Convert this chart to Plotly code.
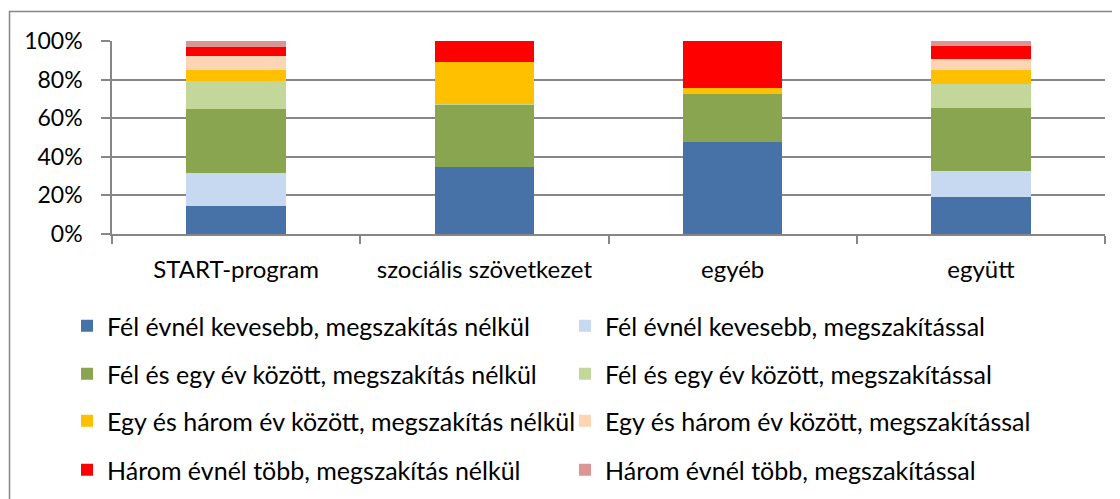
import plotly.graph_objects as go

categories = ["START-program", "szociális szövetkezet", "egyéb", "együtt"]

series_names = [
    "Fél évnél kevesebb, megszakítás nélkül",
    "Fél évnél kevesebb, megszakítással",
    "Fél és egy év között, megszakítás nélkül",
    "Fél és egy év között, megszakítással",
    "Egy és három év között, megszakítás nélkül",
    "Egy és három év között, megszakítással",
    "Három évnél több, megszakítás nélkül",
    "Három évnél több, megszakítással",
]

fel_kev_nelkul = [14.6, 34.7, 47.7, 19.1]
fel_kev_vel = [16.8, 0.0, 0.0, 13.7]
fel_egy_nelkul = [33.3, 32.2, 24.9, 32.5]
fel_egy_vel = [14.6, 0.6, 0.0, 12.2]
egy_harom_nelkul = [5.7, 21.4, 3.0, 7.6]
egy_harom_vel = [7.1, 0.0, 0.0, 5.7]
harom_nelkul = [5.0, 11.1, 24.4, 6.8]
harom_vel = [2.9, 0.0, 0.0, 2.4]

series_values = [fel_kev_nelkul, fel_kev_vel, fel_egy_nelkul, fel_egy_vel,
                 egy_harom_nelkul, egy_harom_vel, harom_nelkul, harom_vel]

colors = ["#4672A8", "#C6D9F1", "#8AA54F", "#C4D79B",
          "#FFC000", "#FCD5B5", "#FF0000", "#D99694"]

y_ticks = [0, 0.2, 0.4, 0.6, 0.8, 1.0]
y_ticktext = ["0%", "20%", "40%", "60%", "80%", "100%"]

FONT = "Lato"
OFF = 8  # page body margin offset
W, H = 1120, 499
# target screen positions of plot area
SX0, SX1, SY0, SY1 = 112, 1105, 41, 234
L = SX0 - OFF
R = W - (SX1 - OFF)
T = SY0 - OFF
B = H - (SY1 - OFF)
pw, ph = W - L - R, H - T - B

def px2x(px):
    return (px - OFF - L) / pw

def py2y(py):
    return (H - B - (py - OFF)) / ph

fig = go.Figure()
legend_ids = ["legend", "legend2", "legend3", "legend4"]
for i, (name, vals, col) in enumerate(zip(series_names, series_values, colors)):
    fig.add_trace(go.Bar(
        name=name, x=categories, y=[v / 100 for v in vals],
        marker=dict(color=col, line=dict(width=0)),
        legend=legend_ids[i // 2],
        hovertemplate="%{x}: %{y:.1%}<extra>" + name + "</extra>",
    ))

legend_rows_y = [326, 374, 421, 470]
leg_common = dict(orientation="h", xanchor="left", yanchor="middle",
                  font=dict(family=FONT, size=25, color="#000000"),
                  entrywidth=453, entrywidthmode="pixels",
                  bgcolor="rgba(0,0,0,0)", borderwidth=0, traceorder="normal")
layout_legends = {}
for k, lid in enumerate(legend_ids):
    layout_legends[lid] = dict(leg_common, x=px2x(67), y=py2y(legend_rows_y[k]))

fig.update_layout(
    barmode="stack",
    bargap=0.6,
    width=W, height=H,
    margin=dict(l=L, r=R, t=T, b=B, autoexpand=False),
    paper_bgcolor="white", plot_bgcolor="white",
    font=dict(family=FONT, size=22, color="#000000"),
    showlegend=True,
    **layout_legends,
    xaxis=dict(
        type="category", showline=True, linecolor="#868686", linewidth=1.5,
        ticks="outside", tickson="boundaries", ticklen=8, tickcolor="#868686", tickwidth=1.5,
        showgrid=False, tickfont=dict(family=FONT, size=24, color="#000000"),
        ticklabelstandoff=13,
    ),
    yaxis=dict(
        range=[0, 1], tickvals=y_ticks, ticktext=y_ticktext,
        showline=True, linecolor="#868686", linewidth=1.5,
        ticks="outside", ticklen=9, tickcolor="#868686", tickwidth=1.5,
        showgrid=True, gridcolor="#868686", gridwidth=1.5,
        zeroline=False, tickfont=dict(family=FONT, size=23, color="#000000"),
        ticklabelstandoff=14,
    ),
    shapes=[dict(type="rect", xref="paper", yref="paper",
                 x0=px2x(9.5), y0=py2y(530), x1=px2x(1150), y1=py2y(11.5),
                 line=dict(color="#868686", width=1.5), fillcolor="rgba(0,0,0,0)",
                 layer="below")],
)

fig.write_html("out.html")
